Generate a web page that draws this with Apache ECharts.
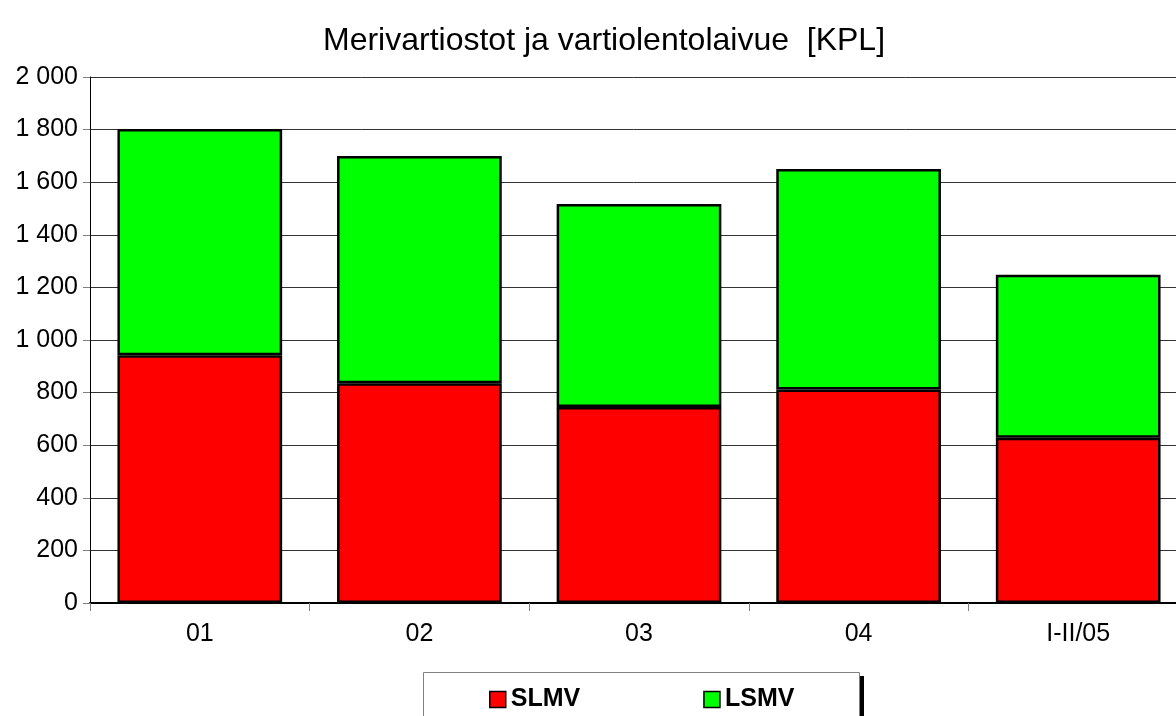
<!DOCTYPE html>
<html>
<head>
<meta charset="utf-8">
<script src="https://cdn.jsdelivr.net/npm/echarts@6/dist/echarts.min.js"></script>
<style>
html,body{margin:0;padding:0;background:#fff;}
#c{width:1176px;height:716px;}
</style>
</head>
<body>
<div id="c"></div>
<script>
const categories = ['01', '02', '03', '04', 'I-II/05'];
const slmv = [942, 836, 745, 812, 628];
const lsmv = [860, 864, 772, 838, 620];
const yTicks = [0, 200, 400, 600, 800, 1000, 1200, 1400, 1600, 1800, 2000];

const font = '"Liberation Sans", Arial, sans-serif';
function fmt(v){ return String(v).replace(/\B(?=(\d{3})+(?!\d))/g, ' '); }

const chart = echarts.init(document.getElementById('c'));
chart.setOption({
  backgroundColor: '#fff',
  animation: false,
  title: {
    text: 'Merivartiostot ja vartiolentolaivue  [KPL]',
    left: 318, top: 20,
    textStyle: { fontFamily: font, fontSize: 32, fontWeight: 'normal', color: '#000' }
  },
  grid: { left: 90, top: 77, bottom: 113, right: -12, outerBoundsMode: 'none', containLabel: false },
  legend: {
    left: 484, top: 682,
    itemWidth: 16, itemHeight: 16, itemGap: 123,
    icon: 'rect',
    itemStyle: { borderColor: '#000', borderWidth: 1.5 },
    textStyle: { fontFamily: font, fontSize: 25, fontWeight: 'bold', color: '#000' },
    data: ['SLMV', 'LSMV']
  },
  graphic: [
    { type: 'rect', shape: { x: 860, y: 676, width: 4, height: 50 }, style: { fill: '#000' }, z: 0 },
    { type: 'rect', shape: { x: 423.5, y: 672.5, width: 436, height: 60 }, style: { fill: '#fff', stroke: '#808080', lineWidth: 1 }, z: 0 }
  ],
  xAxis: {
    type: 'category',
    data: categories,
    axisLine: { show: true, lineStyle: { color: '#000', width: 2 } },
    axisTick: { show: true, length: 8, lineStyle: { color: '#808080', width: 1 } },
    axisLabel: { fontFamily: font, fontSize: 25, color: '#000', margin: 19 }
  },
  yAxis: {
    type: 'value',
    min: 0, max: 2000, interval: 200,
    axisLine: { show: true, lineStyle: { color: '#000', width: 1 } },
    axisTick: { show: true, length: 7, lineStyle: { color: '#808080' } },
    splitLine: { show: true, lineStyle: { color: '#333', width: 1 } },
    axisLabel: { fontFamily: font, fontSize: 25, color: '#000', margin: 12,
      formatter: v => yTicks.includes(v) ? fmt(v) : '' }
  },
  series: [
    { name: 'SLMV', type: 'bar', stack: 'a', data: slmv, barCategoryGap: '25%',
      itemStyle: { color: '#ff0000', borderColor: '#000', borderWidth: 2.5 } },
    { name: 'LSMV', type: 'bar', stack: 'a', data: lsmv, barCategoryGap: '25%',
      itemStyle: { color: '#00ff00', borderColor: '#000', borderWidth: 2.5 } }
  ]
});
</script>
</body>
</html>
